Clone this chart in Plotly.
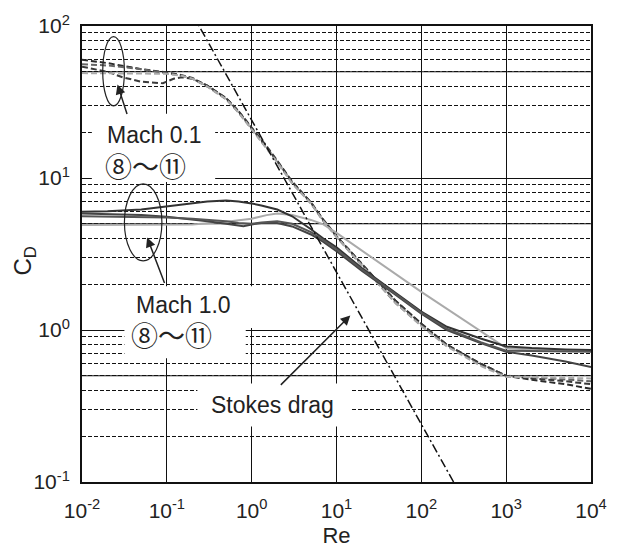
import math
import plotly.graph_objects as go

# ---------------- data ----------------
# Mach 0.1, cases 8-11 (dashed)
re_m01_a = [0.01, 0.02, 0.05, 0.1, 0.15, 0.2, 0.3, 0.5, 0.7, 1, 1.5, 2, 3, 5, 7, 10, 20, 30, 50, 100, 200, 500, 1000, 2000, 5000, 10000]
cd_m01_a = [60, 57, 52, 49.5, 47.5, 45.5, 40.5, 33.5, 27.5, 21.3, 16.0, 12.9, 9.4, 6.9, 5.3, 4.15, 2.7, 2.1, 1.55, 1.1, 0.8, 0.6, 0.5, 0.47, 0.44, 0.41]

re_m01_b = [0.01, 0.02, 0.05, 0.1, 0.15, 0.2, 0.3, 0.5, 0.7, 1, 1.5, 2, 3, 5, 7, 10, 20, 30, 50, 100, 200, 500, 1000, 2000, 5000, 10000]
cd_m01_b = [56, 55, 52, 49, 47, 45, 40, 33, 27, 21, 15.8, 12.8, 9.3, 6.8, 5.2, 4.1, 2.65, 2.05, 1.5, 1.07, 0.79, 0.59, 0.5, 0.49, 0.475, 0.46]

re_m01_c = [0.01, 0.02, 0.03, 0.05, 0.09, 0.12, 0.15, 0.2, 0.3, 0.5, 0.7, 1, 1.5, 2, 3, 5, 7, 10, 20, 30, 50, 100, 200, 500, 1000, 2000, 5000, 10000]
cd_m01_c = [54, 50, 46, 43, 42, 45, 46, 45, 40.5, 33.5, 27.5, 21.5, 16.2, 13.0, 9.5, 6.9, 5.3, 4.15, 2.7, 2.1, 1.55, 1.1, 0.8, 0.6, 0.5, 0.48, 0.46, 0.44]

re_m01_d = [0.01, 0.02, 0.05, 0.1, 0.15, 0.2, 0.3, 0.5, 0.7, 1, 1.5, 2, 3, 5, 7, 10, 20, 30, 50, 100, 200, 500, 1000, 2000, 5000, 10000]
cd_m01_d = [49, 49, 49, 48.5, 47, 45, 40, 33, 27, 21, 15.8, 12.7, 9.2, 6.8, 5.2, 4.1, 2.65, 2.05, 1.5, 1.06, 0.78, 0.58, 0.49, 0.49, 0.485, 0.48]

# Mach 1.0, cases 8-11 (solid)
re_m10_a = [0.01, 0.02, 0.05, 0.1, 0.2, 0.3, 0.5, 0.7, 1, 1.3, 2, 3, 5, 7, 10, 20, 50, 100, 200, 500, 1000, 2000, 5000, 10000]
cd_m10_a = [6.0, 6.05, 6.2, 6.5, 6.85, 7.0, 7.1, 7.0, 6.8, 6.6, 6.2, 5.6, 4.6, 4.0, 3.5, 2.55, 1.75, 1.32, 1.05, 0.88, 0.78, 0.76, 0.745, 0.74]

re_m10_b = [0.01, 0.02, 0.05, 0.1, 0.2, 0.3, 0.5, 0.7, 0.8, 1, 1.3, 2, 3, 5, 7, 10, 20, 50, 100, 200, 500, 1000, 2000, 5000, 10000]
cd_m10_b = [5.85, 5.8, 5.7, 5.55, 5.35, 5.2, 5.0, 4.85, 4.82, 4.95, 5.05, 5.05, 4.8, 4.25, 3.8, 3.3, 2.45, 1.7, 1.28, 1.0, 0.82, 0.72, 0.68, 0.62, 0.57]

re_m10_c = [0.01, 0.05, 0.1, 0.2, 0.5, 0.7, 1, 1.3, 2, 3, 5, 7, 10, 20, 50, 100, 200, 500, 1000, 2000, 5000, 10000]
cd_m10_c = [5.6, 5.55, 5.5, 5.4, 5.2, 5.05, 5.0, 5.1, 5.2, 5.0, 4.4, 3.9, 3.4, 2.5, 1.72, 1.3, 1.02, 0.83, 0.73, 0.725, 0.72, 0.72]

re_m10_d = [0.01, 0.05, 0.1, 0.2, 0.5, 1, 1.5, 2, 3, 5, 7, 10, 100, 1000, 2000, 5000, 10000]
cd_m10_d = [4.9, 4.9, 4.9, 4.95, 5.15, 5.4, 5.7, 5.85, 5.7, 5.3, 4.95, 4.35, 1.78, 0.76, 0.745, 0.735, 0.73]

# Stokes drag line (end points)
re_stokes = [0.2, 300]
cd_stokes = [120, 0.08]

x_tick_vals = [0.01, 0.1, 1, 10, 100, 1000, 10000]
x_tick_text = ["10<sup>-2</sup>", "10<sup>-1</sup>", "10<sup>0</sup>", "10<sup>1</sup>",
               "10<sup>2</sup>", "10<sup>3</sup>", "10<sup>4</sup>"]
y_tick_vals = [0.1, 1, 10, 100]
y_tick_text = ["10<sup>-1</sup>", "10<sup>0</sup>", "10<sup>1</sup>", "10<sup>2</sup>"]
y_solid_minor = [0.5, 5, 50]

# ---------------- layout geometry ----------------
W, H = 619, 556
L, R, T, B = 82, 598, 21, 489
Y_LOG_MIN, Y_LOG_MAX = -1, 2
FONT = "Liberation Sans, Arial, Noto Sans CJK JP, sans-serif"
CJK = "Noto Sans CJK JP, Liberation Sans, sans-serif"
TXT = "#222222"


def px(x):
    return (x - L) / (R - L)


def py(y):
    return (B - y) / (B - T)


def pv(v):
    return (math.log10(v) - Y_LOG_MIN) / (Y_LOG_MAX - Y_LOG_MIN)


fig = go.Figure()

m01_styles = [
    (re_m01_a, cd_m01_a, "#2a2a2a", "Mach 0.1 (8)"),
    (re_m01_b, cd_m01_b, "#666666", "Mach 0.1 (9)"),
    (re_m01_c, cd_m01_c, "#3a3a3a", "Mach 0.1 (10)"),
    (re_m01_d, cd_m01_d, "#aaaaaa", "Mach 0.1 (11)"),
]
for xs, ys, col, nm in m01_styles:
    fig.add_trace(go.Scatter(x=xs, y=ys, mode="lines", name=nm,
                             line=dict(color=col, width=2, dash="6px,3px")))

m10_styles = [
    (re_m10_d, cd_m10_d, "#aaaaaa", "Mach 1.0 (11)"),
    (re_m10_a, cd_m10_a, "#333333", "Mach 1.0 (8)"),
    (re_m10_b, cd_m10_b, "#444444", "Mach 1.0 (9)"),
    (re_m10_c, cd_m10_c, "#555555", "Mach 1.0 (10)"),
]
for xs, ys, col, nm in m10_styles:
    fig.add_trace(go.Scatter(x=xs, y=ys, mode="lines", name=nm,
                             line=dict(color=col, width=2)))

fig.add_trace(go.Scatter(x=re_stokes, y=cd_stokes, mode="lines", name="Stokes drag",
                         line=dict(color="#111111", width=1.5, dash="9px,3px,2px,3px")))

shapes = []
# solid grid lines at 5 x 10^n
for v in y_solid_minor:
    shapes.append(dict(type="line", xref="paper", yref="paper", x0=0, x1=1,
                       y0=pv(v), y1=pv(v), layer="below",
                       line=dict(color="#111111", width=1)))
# white backgrounds behind the labels (they hide the grid)
for (x0, x1, y0, y1) in [(92, 217, 111, 181), (130, 257, 288, 331),
                         (125, 248, 331, 362), (199, 354, 388, 432)]:
    shapes.append(dict(type="rect", xref="paper", yref="paper",
                       x0=px(x0), x1=px(x1), y0=py(y1), y1=py(y0),
                       fillcolor="white", line=dict(width=0), layer="above"))
# ellipses
for (x0, x1, y0, y1) in [(103, 125, 32, 103), (125, 163, 183, 262)]:
    shapes.append(dict(type="circle", xref="paper", yref="paper",
                       x0=px(x0), x1=px(x1), y0=py(y1), y1=py(y0),
                       line=dict(color="#222222", width=1.2), layer="above"))

annotations = []
for text, x, y, fam, size in [("Mach 0.1", 105, 133, FONT, 23), ("⑧〜⑪", 103, 164, CJK, 27),
                              ("Mach 1.0", 135, 307, FONT, 23), ("⑧〜⑪", 130, 338, CJK, 27),
                              ("Stokes drag", 211, 410, FONT, 23)]:
    annotations.append(dict(text=text, xref="paper", yref="paper", x=px(x), y=py(y),
                            xanchor="left", yanchor="middle", showarrow=False,
                            font=dict(family=fam, size=size, color=TXT)))
# arrows: tip position, tail offset
for (tx, ty, ax, ay) in [(118, 81, 10, 31), (148, 238, 18, 47), (354, 318, -71, 71)]:
    annotations.append(dict(text="", xref="paper", yref="paper", x=px(tx), y=py(ty),
                            ax=ax, ay=ay, showarrow=True, arrowhead=2, arrowsize=1.3,
                            arrowwidth=1.5, arrowcolor="#222222", standoff=0))
# y axis title
annotations.append(dict(text="C<sub>D</sub>", xref="paper", yref="paper",
                        x=px(24), y=py(262), xanchor="center", yanchor="middle",
                        textangle=-90, showarrow=False,
                        font=dict(family=FONT, size=24, color=TXT)))

fig.update_layout(
    width=W, height=H,
    margin=dict(l=L, r=W - R, t=T, b=H - B, pad=0),
    paper_bgcolor="white", plot_bgcolor="white",
    showlegend=False,
    shapes=shapes, annotations=annotations,
    font=dict(family=FONT, color=TXT),
    xaxis=dict(type="log", range=[-2, 4], tickvals=x_tick_vals, ticktext=x_tick_text,
               showgrid=True, gridcolor="#111111", gridwidth=1,
               showline=True, linecolor="#111111", linewidth=2, mirror=True,
               ticks="", ticklabelstandoff=9, zeroline=False,
               tickfont=dict(family=FONT, size=21, color=TXT),
               title=dict(text="Re", font=dict(family=FONT, size=22, color=TXT), standoff=6)),
    yaxis=dict(type="log", range=[Y_LOG_MIN, Y_LOG_MAX], tickvals=y_tick_vals, ticktext=y_tick_text,
               showgrid=True, gridcolor="#111111", gridwidth=1,
               minor=dict(showgrid=True, dtick="D1", gridcolor="#111111", gridwidth=1,
                          griddash="4px,2px", ticks=""),
               showline=True, linecolor="#111111", linewidth=2, mirror=True,
               ticks="", ticklabelstandoff=6, zeroline=False,
               tickfont=dict(family=FONT, size=21, color=TXT)),
)

fig.write_html("out.html")
